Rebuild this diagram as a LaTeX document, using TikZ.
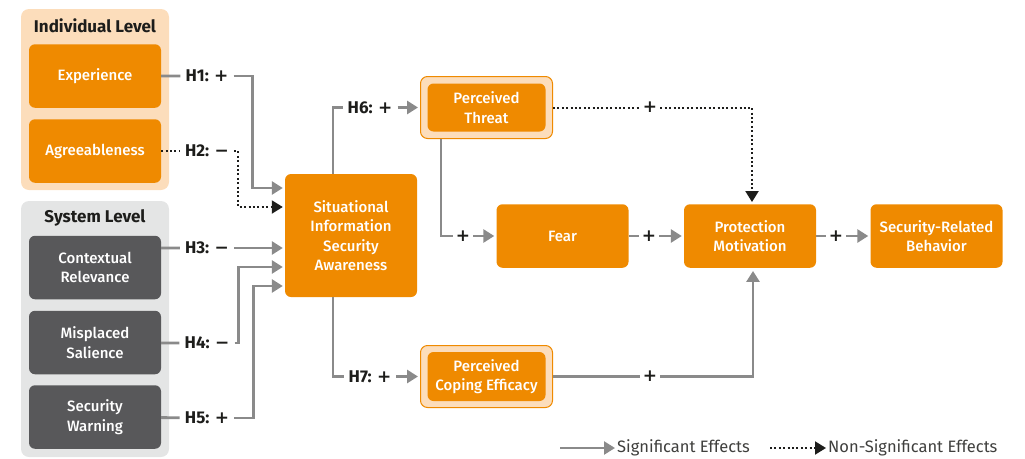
\documentclass[tikz,border=0pt]{standalone}
\usepackage{fontspec}
\setmainfont{Fira Sans}
\newfontfamily\medfont{Fira Sans}[UprightFont=* Medium]
\newfontfamily\symfont{DejaVu Sans}
\usetikzlibrary{positioning, arrows.meta}
\definecolor{orng}{HTML}{EF8A00}
\definecolor{lorng}{HTML}{FCDDBB}
\definecolor{dgray}{HTML}{58585A}
\definecolor{lgray}{HTML}{E4E5E5}
\definecolor{lnk}{HTML}{8A8A8A}
\definecolor{ink}{HTML}{1D1D1B}
\newcommand{\pls}{{\symfont\bfseries +}}
\newcommand{\mns}{{\symfont\bfseries \char"2212}}
\tikzset{
box/.style={rounded corners=6pt, fill=orng, text=white, align=center, inner sep=2pt,
  minimum width=132pt, minimum height=63.5pt, font=\medfont\fontsize{15}{19.5}\selectfont}, % orange construct box
sysbox/.style={box, fill=dgray}, % system level constructs
ring/.style={rounded corners=7pt, fill=lorng, draw=orng, line width=1pt,
  minimum width=132pt, minimum height=62pt}, % light frame round a box
group/.style={rounded corners=8pt, minimum width=148pt}, % level panels
title/.style={font=\bfseries\fontsize{17}{18}\selectfont, text=ink},
edgeline/.style={draw=lnk, line width=2.8pt}, % significant effect, no tip
sig/.style={edgeline, -{Triangle[length=11pt,width=13pt]}, shorten >=2pt},
dotline/.style={draw=ink, line width=2pt, dash pattern=on 2pt off 2.4pt}, % non-significant
nonsig/.style={dotline, -{Triangle[length=11pt,width=13pt]}, shorten >=2pt},
hyp/.style={fill=white, text=ink, inner sep=5pt, font=\bfseries\fontsize{17}{17}\selectfont},
sign/.style={fill=white, text=ink, inner sep=3pt, font=\fontsize{17}{17}\selectfont},
legend/.style={text=ink!85, inner sep=0pt, anchor=west, font=\fontsize{16.5}{16.5}\selectfont},
}
\begin{document}
\begin{tikzpicture}[x=1pt, y=-1pt]
    \useasboundingbox (0,0) rectangle (1025,458);

    % levels
    \node[group, fill=lorng, minimum height=181pt] (ind) at (95,99.5) {};
    \node[group, fill=lgray, minimum height=256pt] (sys) at (95,329) {};
    \node[title] (indt) at (95,26) {Individual Level};
    \node[title] (syst) at (95,218) {System Level};

    \node[box] (exp) at (95,76) {Experience};
    \node[box] (agr) at (95,151) {Agreeableness};
    \node[sysbox] (ctx) at (95,267.5) {Contextual\\Relevance};
    \node[sysbox] (mis) at (95,342.5) {Misplaced\\Salience};
    \node[sysbox] (warn) at (95,417) {Security\\Warning};

    % model
    \node[box, minimum height=123pt] (sisa) at (351,235.5) {Situational\\Information\\Security\\Awareness};
    \node[ring] (ptring) at (486.5,107.5) {};
    \node[box, minimum width=118pt, minimum height=48pt] (pt) at (ptring) {Perceived\\Threat};
    \node[ring] (pcering) at (486.5,376.5) {};
    \node[box, minimum width=118pt, minimum height=49pt] (pce) at (pcering) {Perceived\\Coping Efficacy};
    \node[box] (fear) at (562.5,236) {Fear};
    \node[box] (pm) at (750,236) {Protection\\Motivation};
    \node[box] (srb) at (936.5,236) {Security-Related\\Behavior};

    % hypotheses
    \node[hyp] (h1) at (207,76) {H1: \pls};
    \node[hyp] (h2) at (207,151) {H2: \mns};
    \node[hyp] (h3) at (207,248) {H3: \mns};
    \node[hyp] (h4) at (207,343) {H4: \mns};
    \node[hyp] (h5) at (207,418) {H5: \pls};
    \node[hyp] (h6) at (370,107.5) {H6: \pls};
    \node[hyp] (h7) at (370,376.5) {H7: \pls};
    \node[sign] (s1) at (650,107.5) {\pls};
    \node[sign] (s2) at (463,236) {\pls};
    \node[sign] (s3) at (649,236) {\pls};
    \node[sign] (s4) at (836,236) {\pls};
    \node[sign] (s5) at (650,376.5) {\pls};

    \draw[edgeline] (exp) -- (h1) (h3 -| ctx.east) -- (h3) (h4 -| mis.east) -- (h4)
          (warn) -- (h5);
    \draw[dotline] (agr) -- (h2);
    \draw[sig] (h1.east) -| ++(19,0) |- ([yshift=47.5pt]sisa.west);
    \draw[nonsig] (h2.east) -| ++(4,0) |- ([yshift=28.5pt]sisa.west);
    \draw[sig] (h3.east) -- (h3 -| sisa.west);
    \draw[sig] (h4.east) -| ++(4,0) |- ([yshift=-31.5pt]sisa.west);
    \draw[sig] (h5.east) -| ++(19,0) |- ([yshift=-50.5pt]sisa.west);

    \draw[edgeline] ([xshift=-18pt]sisa.north) |- (h6);
    \draw[edgeline] ([xshift=-18pt]sisa.south) |- (h7);
    \draw[sig] (h6) -- (ptring);
    \draw[sig] (h7) -- (pcering);

    \draw[dotline] (ptring) -- (s1);
    \draw[nonsig] (s1) -| ([xshift=2pt]pm.north);
    \draw[edgeline] ([xshift=-45.5pt]ptring.south) |- (s2);
    \draw[sig] (s2) -- (fear);
    \draw[edgeline] (fear) -- (s3);
    \draw[sig] (s3) -- (pm);
    \draw[edgeline] (pm) -- (s4);
    \draw[sig] (s4) -- (srb);
    \draw[edgeline] (pcering) -- (s5);
    \draw[sig, shorten >=3pt] (s5) -| ([xshift=3pt]pm.south);

    % legend
    \coordinate (l1) at (560,448);
    \coordinate (l2) at (770,448);
    \node[legend] (l1t) at (617,448) {Significant Effects};
    \node[legend] (l2t) at (828,448) {Non-Significant Effects};
    \draw[sig, line width=2.4pt] (l1) -- (l1t.west);
    \draw[nonsig] (l2) -- (l2t.west);
\end{tikzpicture}
\end{document}
